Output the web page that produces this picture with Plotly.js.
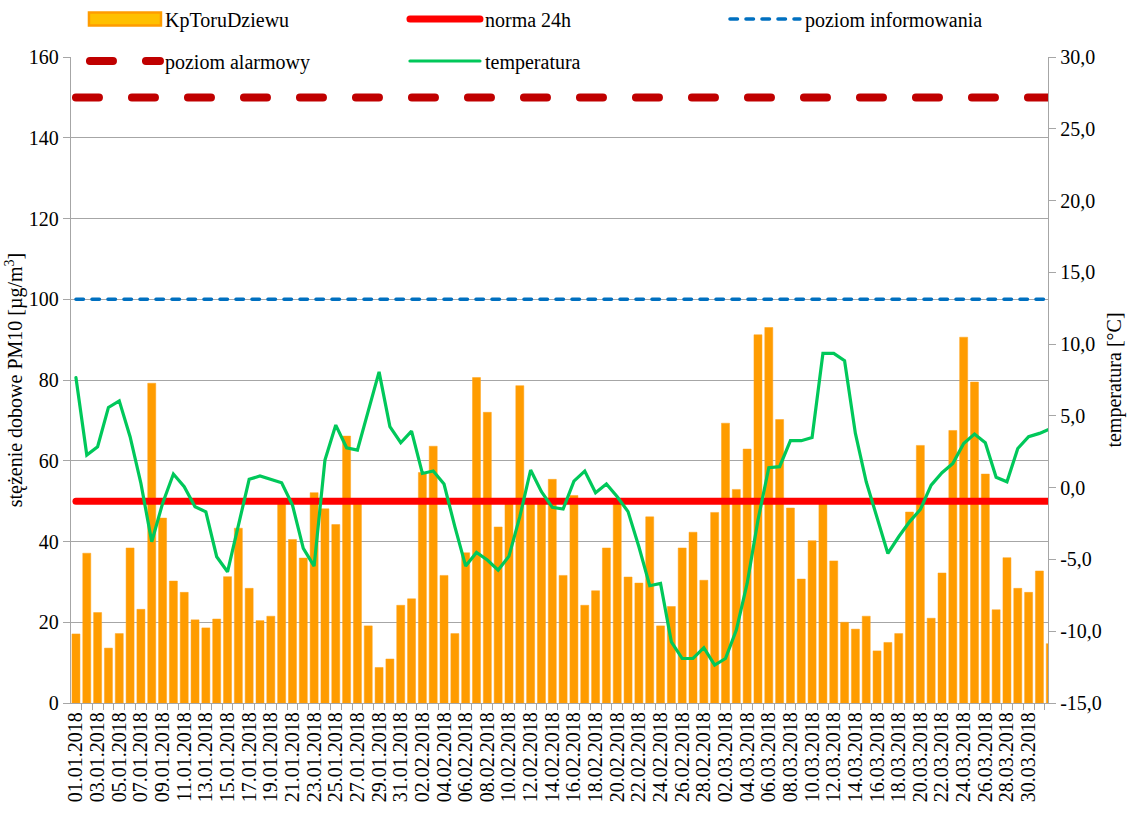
<!DOCTYPE html>
<html>
<head>
<meta charset="utf-8">
<script src="https://cdn.plot.ly/plotly-3.0.1.min.js"></script>
<style>
  html, body { margin: 0; padding: 0; background: #ffffff; }
  #chart { width: 1127px; height: 816px; }
</style>
</head>
<body>
<div id="chart"></div>
<script>
// ---- data ----
const dates = [
  '2018-01-01','2018-01-02','2018-01-03','2018-01-04','2018-01-05','2018-01-06','2018-01-07','2018-01-08','2018-01-09','2018-01-10',
  '2018-01-11','2018-01-12','2018-01-13','2018-01-14','2018-01-15','2018-01-16','2018-01-17','2018-01-18','2018-01-19','2018-01-20',
  '2018-01-21','2018-01-22','2018-01-23','2018-01-24','2018-01-25','2018-01-26','2018-01-27','2018-01-28','2018-01-29','2018-01-30',
  '2018-01-31','2018-02-01','2018-02-02','2018-02-03','2018-02-04','2018-02-05','2018-02-06','2018-02-07','2018-02-08','2018-02-09',
  '2018-02-10','2018-02-11','2018-02-12','2018-02-13','2018-02-14','2018-02-15','2018-02-16','2018-02-17','2018-02-18','2018-02-19',
  '2018-02-20','2018-02-21','2018-02-22','2018-02-23','2018-02-24','2018-02-25','2018-02-26','2018-02-27','2018-02-28','2018-03-01',
  '2018-03-02','2018-03-03','2018-03-04','2018-03-05','2018-03-06','2018-03-07','2018-03-08','2018-03-09','2018-03-10','2018-03-11',
  '2018-03-12','2018-03-13','2018-03-14','2018-03-15','2018-03-16','2018-03-17','2018-03-18','2018-03-19','2018-03-20','2018-03-21',
  '2018-03-22','2018-03-23','2018-03-24','2018-03-25','2018-03-26','2018-03-27','2018-03-28','2018-03-29','2018-03-30','2018-03-31',
  '2018-04-01'
];

// PM10 daily concentration, KpToruDziewu [µg/m3]
const pm10 = [
  17.1, 37.1, 22.4, 13.6, 17.2, 38.4, 23.2, 79.2, 45.8, 30.2,
  27.4, 20.6, 18.6, 20.8, 31.3, 43.3, 28.4, 20.4, 21.5, 50.3,
  40.5, 35.9, 52.1, 48.1, 44.2, 66.1, 49.8, 19.1, 8.8, 10.9,
  24.2, 25.8, 57.1, 63.6, 31.6, 17.2, 37.2, 80.6, 72.0, 43.6,
  49.9, 78.6, 50.4, 50.2, 55.4, 31.6, 51.4, 24.2, 27.8, 38.4,
  50.1, 31.2, 29.7, 46.1, 19.1, 23.9, 38.4, 42.3, 30.4, 47.2,
  69.3, 52.9, 62.9, 91.2, 93.0, 70.2, 48.3, 30.7, 40.2, 49.9,
  35.2, 20.0, 18.3, 21.5, 12.9, 15.0, 17.2, 47.3, 63.8, 21.0,
  32.2, 67.5, 90.6, 79.5, 56.7, 23.1, 36.0, 28.4, 27.4, 32.7,
  14.7
];

// temperature [°C]
const temperature = [
  7.66, 2.27, 2.85, 5.59, 6.05, 3.55, 0.30, -3.77, -1.10, 0.95,
  0.07, -1.33, -1.68, -4.81, -5.86, -2.60, 0.58, 0.81, 0.58, 0.34,
  -1.21, -4.23, -5.46, 1.92, 4.36, 2.78, 2.62, 5.40, 8.07, 4.25,
  3.13, 3.94, 0.99, 1.16, 0.25, -2.72, -5.46, -4.51, -5.04, -5.74,
  -4.77, -2.02, 1.23, -0.28, -1.37, -1.49, 0.46, 1.16, -0.35, 0.25,
  -0.63, -1.67, -4.12, -6.83, -6.67, -10.74, -11.90, -11.90, -11.15, -12.36,
  -11.90, -9.92, -6.67, -2.26, 1.39, 1.46, 3.27, 3.27, 3.50, 9.35,
  9.35, 8.84, 3.78, 0.41, -2.03, -4.58, -3.42, -2.38, -1.52, 0.18,
  1.04, 1.69, 3.08, 3.73, 3.13, 0.72, 0.41, 2.73, 3.55, 3.78,
  4.10
];

// threshold levels [µg/m3]
const normaLevel = [50, 50];
const informLevel = [100, 100];
const alarmLevel = [150, 150];
const levelDates = [dates[0], dates[dates.length - 1]];

// right axis tick labels
const tempTickVals = [-15, -10, -5, 0, 5, 10, 15, 20, 25, 30];
const tempTickText = ['-15,0', '-10,0', '-5,0', '0,0', '5,0', '10,0', '15,0', '20,0', '25,0', '30,0'];

// ---- chart ----
const FONT = 'Liberation Serif';
const GRID = '#A6A6A6';

const traces = [
  {
    type: 'bar', name: 'KpToruDziewu', x: dates, y: pm10,
    marker: { color: '#FF9C00', line: { color: '#FFA31A', width: 0.5 } },
    legend: 'legend', hoverinfo: 'x+y'
  },
  {
    type: 'scatter', mode: 'lines', name: 'norma 24h', x: levelDates, y: normaLevel,
    line: { color: '#FF0000', width: 7 }, legend: 'legend'
  },
  {
    type: 'scatter', mode: 'lines', name: 'poziom informowania', x: levelDates, y: informLevel,
    line: { color: '#0070C0', width: 3.5, dash: '7.5px,8.5px' }, legend: 'legend'
  },
  {
    type: 'scatter', mode: 'lines', name: 'poziom alarmowy', x: levelDates, y: alarmLevel,
    line: { color: '#C00000', width: 8, dash: '23px,33px' }, legend: 'legend2'
  },
  {
    type: 'scatter', mode: 'lines', name: 'temperatura', x: dates, y: temperature, yaxis: 'y2',
    line: { color: '#00C85A', width: 3.2 }, legend: 'legend2'
  }
];

const legendCommon = {
  orientation: 'h', xanchor: 'left', yanchor: 'middle',
  itemwidth: 70, entrywidth: 235, traceorder: 'normal',
  font: { family: FONT, size: 20, color: '#000' },
  bgcolor: 'rgba(0,0,0,0)', borderwidth: 0
};

const layout = {
  width: 1127, height: 816,
  margin: { l: 71, r: 79, t: 57, b: 113, pad: 0, autoexpand: false },
  paper_bgcolor: '#ffffff', plot_bgcolor: '#ffffff',
  font: { family: FONT, size: 20, color: '#000' },
  bargap: 0.26,
  showlegend: true,
  legend: Object.assign({}, legendCommon, { x: 0.0143, y: 1.0588 }),
  legend2: Object.assign({}, legendCommon, { x: 0.0143, y: 0.9938 }),
  xaxis: {
    type: 'date', automargin: false,
    range: ['2017-12-31 13:00', '2018-03-31 19:00'],
    tick0: '2018-01-01', dtick: 2 * 86400000,
    tickformat: '%d.%m.%Y', tickangle: -90,
    tickfont: { family: FONT, size: 20 },
    ticks: '', showgrid: false,
    minor: { tick0: '2017-12-31 12:00', dtick: 86400000, ticks: 'outside', ticklen: 6, tickcolor: GRID, showgrid: false },
    showline: true, linecolor: GRID, linewidth: 1.3,
    zeroline: false
  },
  yaxis: {
    range: [0, 160], dtick: 20, automargin: false,
    showgrid: true, gridcolor: GRID, gridwidth: 1.3,
    showline: true, linecolor: GRID, linewidth: 1.3,
    ticks: 'outside', ticklen: 7, tickcolor: GRID,
    zeroline: false,
    tickfont: { family: FONT, size: 20 },
    title: { text: 'stężenie dobowe PM10 [µg/m<sup>3</sup>]', font: { family: FONT, size: 20, color: '#000' }, standoff: 0 }
  },
  yaxis2: {
    overlaying: 'y', side: 'right', range: [-15, 30], automargin: false,
    tickmode: 'array', tickvals: tempTickVals, ticktext: tempTickText,
    showgrid: false, zeroline: false,
    showline: true, linecolor: GRID, linewidth: 1.3,
    ticks: 'outside', ticklen: 7, tickcolor: GRID,
    tickfont: { family: FONT, size: 20 },
    title: { text: 'temperatura [°C]', font: { family: FONT, size: 20, color: '#000' }, standoff: 6 }
  }
};

function finishStyling(gd) {
  // rounded ends on the level lines, as in the original
  gd.querySelectorAll('.scatterlayer .trace path.js-line, .legend .traces path.js-line, .legend2 .traces path.js-line').forEach(function (p) {
    p.style.strokeLinecap = 'round';
  });
  // wide box symbol for the bar series in the legend
  const firstItem = gd.querySelector('g.legend .traces');
  if (firstItem) {
    firstItem.querySelectorAll('.legendpoints path').forEach(function (p) {
      if (p.classList.contains('js-line')) return;
      p.setAttribute('d', 'M-36,-6.5H36V6.5H-36Z');
      p.style.fill = '#FFC000';
      p.style.stroke = '#FF9C00';
      p.style.strokeWidth = '2.5px';
    });
  }
}

const gdEl = document.getElementById('chart');
Plotly.newPlot(gdEl, traces, layout, { displayModeBar: false }).then(function (gd) {
  finishStyling(gd);
  gd.on('plotly_afterplot', function () { finishStyling(gd); });
  [50, 300].forEach(function (ms) { setTimeout(function () { finishStyling(gd); }, ms); });
});
</script>
</body>
</html>
